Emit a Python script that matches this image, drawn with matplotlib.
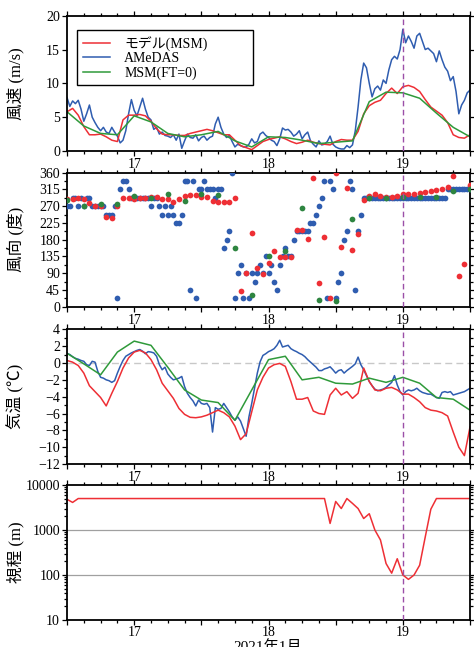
import numpy as np
import pandas as pd
import matplotlib
matplotlib.use('Agg')
import matplotlib.pyplot as plt
import matplotlib.dates as mdates
from matplotlib.ticker import MultipleLocator, FixedLocator, LogLocator, NullFormatter, FuncFormatter
from matplotlib.lines import Line2D

plt.rcParams['font.family'] = ['Liberation Serif', 'Noto Sans CJK JP']
plt.rcParams['axes.unicode_minus'] = True

# time axes: AMeDAS every 30 min, MSM forecast hourly, MSM(FT=0) every 3 h
t_obs = pd.date_range('2021-01-16 12:00', '2021-01-19 12:00', freq='30min')
t_msm = pd.date_range('2021-01-16 12:00', '2021-01-19 12:00', freq='1h')
t_ft0 = pd.date_range('2021-01-16 12:00', '2021-01-19 12:00', freq='3h')
t_mark = pd.Timestamp('2021-01-19 00:00')

# wind speed (m/s)
ws_msm = [5.8, 6.3, 5.3, 3.6, 2.4, 2.4, 2.5, 2.1, 1.6, 1.4, 4.6, 5.3, 5.3, 5.4, 5.2, 4.4,
          3.3, 2.5, 2.4, 2.4, 2.3, 2.3, 2.6, 2.8, 3.0, 3.2, 3.0, 2.7, 2.4, 2.4, 1.6, 0.8,
          0.5, 0.2, 0.8, 1.4, 1.7, 1.9, 2.1, 1.8, 1.4, 1.1, 1.3, 1.6, 1.3, 1.1, 1.0, 0.9,
          1.4, 1.7, 1.6, 1.6, 2.9, 5.5, 6.7, 7.2, 7.5, 8.5, 9.3, 8.5, 9.5, 9.7, 9.4, 8.8,
          7.6, 6.5, 5.9, 5.3, 4.2, 2.4, 2.0, 1.9, 2.4]
ws_obs = [7.9, 6.6, 7.4, 7.0, 7.5, 6.2, 4.4, 5.5, 6.8, 5.0,
          4.2, 3.5, 3.0, 3.5, 2.8, 2.6, 3.5, 2.8, 2.2, 1.2,
          1.6, 3.0, 5.5, 7.6, 6.0, 5.2, 6.5, 7.8, 6.2, 5.0,
          4.6, 3.2, 3.5, 2.5, 2.8, 2.3, 2.2, 2.0, 2.4, 1.6,
          2.5, 0.4, 1.5, 2.5, 2.0, 1.9, 2.4, 1.5, 2.0, 2.2,
          1.6, 2.0, 2.2, 4.0, 5.0, 3.5, 2.5, 2.0, 2.3, 1.4,
          0.6,
          1.0, 0.8, 0.6, 0.6, 1.0, 1.8, 1.2, 1.4, 2.5, 2.8,
          2.3, 2.0, 1.6, 1.4, 0.8, 1.8, 3.4, 3.1, 3.2, 2.8,
          2.2, 2.5, 3.0, 1.8, 2.4, 2.8, 1.5, 1.0, 0.6, 1.5,
          0.9, 1.0, 1.4, 2.2, 1.0, 0.6, 0.4, 0.3, 0.3, 0.8,
          0.5, 0.9, 3.0, 6.5, 10.5, 13.0, 12.3, 10.0, 8.0, 9.2,
          9.6, 9.0, 10.5, 10.0, 12.0, 13.5, 14.0, 13.6, 15.0, 18.0,
          16.0, 17.0, 16.2, 15.2, 17.0, 17.4, 16.2, 15.0, 15.2, 14.8,
          14.4, 13.2, 14.8, 13.5, 12.4, 11.8, 10.4, 11.0, 8.8, 5.5,
          6.8, 7.5, 8.6, 9.0]
ws_ft0 = [5.8, 3.7, 2.6, 2.4, 5.2, 4.3, 2.6, 2.1, 2.4, 2.9, 1.5, 0.6, 2.1,
          2.0, 1.6, 1.1, 1.3, 1.5, 7.3, 8.7, 8.6, 7.8, 5.6, 3.5, 2.1]

# wind direction (deg)
wd_msm = [288, 288, 291, 288, 279, 270, 270, 242, 237, 271, 291, 291, 289, 291, 293, 295,
          295, 288, 288, 282, 288, 297, 300, 300, 294, 294, 285, 282, 282, 282, 291, 42,
          90, 199, 103, 87, 118, 150, 134, 134, 134, 206, 206, 183, 345, 64, 188, 22,
          358, 159, 318, 152, 195, 287, 297, 302, 297, 294, 296, 297, 302, 302, 303, 305,
          308, 310, 313, 317, 322, 351, 82, 115, 327]
wd_obs = [270, 270, 292.5, 292.5, 270, 292.5, 270, 292.5, 292.5, 270,
          270, 270, 270, 270, 247.5, 247.5, 247.5, 270, 22.5, 315,
          337.5, 337.5, 315, 292.5, 292.5, 292.5, 292.5, 292.5, 292.5, 292.5,
          270, 292.5, 292.5, 270, 247.5, 270, 247.5, 270, 247.5, 225,
          225, 247.5, 337.5, 337.5, 45, 337.5, 22.5, 315, 315, 337.5,
          315, 315, 315, 292.5, 315, 315, 157.5, 180, 202.5, 360,
          22.5, 90, 112.5, 22.5, 90, 22.5, 90, 67.5, 90, 112.5,
          90, 135, 90, 112.5, 67.5, 45, 112.5, 135, 157.5, 135,
          135, 180, 202.5, 202.5, 202.5, 202.5, 202.5, 225, 225, 247.5,
          270, 292.5, 337.5, 22.5, 337.5, 315, 22.5, 67.5, 90, 180,
          202.5, 337.5, 315, 45, 202.5, 247.5, 292.5, 292.5, 292.5, 292.5,
          292.5, 292.5, 292.5, 292.5, 292.5, 292.5, 292.5, 292.5, 292.5, 292.5,
          292.5, 292.5, 292.5, 292.5, 292.5, 292.5, 292.5, 292.5, 292.5, 292.5,
          292.5, 292.5, 292.5, 292.5, 292.5, 292.5, 315, 315, 315, 315,
          315, 315, 315, 315, 315]
wd_ft0 = [287, 270, 277, 277, 297, 291, 302, 285, 302, 300, 157, 32, 135,
          150, 266, 18, 16, 235, 291, 293, 294, 294, 294, 311, 315]

# air temperature (deg C)
ta_msm = [0.3, 0.1, -0.3, -1.2, -2.7, -3.4, -4.1, -5.1, -3.6, -2.2, -0.6, 0.6, 1.3, 1.5,
          1.2, 0.4, -0.8, -2.4, -3.3, -4.2, -5.4, -6.1, -6.45, -6.5, -6.4, -6.2, -5.9,
          -5.6, -5.9, -6.4, -7.5, -9.1, -8.4, -5.8, -3.2, -1.7, -0.6, -0.2, -0.05, -0.4,
          -2.2, -4.3, -4.3, -4.1, -5.7, -6.0, -6.1, -3.8, -3.0, -3.8, -3.4, -4.2, -3.6,
          -0.6, -2.2, -3.2, -3.3, -3.0, -2.9, -3.2, -3.7, -3.7, -4.1, -4.6, -5.3, -5.6,
          -5.7, -5.9, -6.3, -8.2, -10.0, -11.0, -7.6]
ta_obs = [1.15, 1.0, 0.75, 0.55, 0.45, 0.3, 0.2, -0.2, -0.3, 0.2, 0.1, -1.0, -1.7, -1.8,
          -2.0, -2.1, -2.3, -2.1, -1.2, -0.4, 0.3,
          0.8, 1.0, 1.2, 1.35, 1.5, 1.6, 1.4, 1.1, 1.35, 1.3,
          1.2, 0.8, -0.2, -0.8, -0.5, -1.3, -1.7, -2.0, -1.9, -1.8,
          -1.6, -2.8, -3.6, -4.1, -4.5, -5.1, -4.4, -4.8, -4.9, -4.8,
          -5.3, -8.2, -5.3, -5.5, -5.4, -4.8, -5.3, -5.8, -6.4, -6.8,
          -6.4, -6.9, -7.8, -8.7, -6.4, -4.8, -3.0, -1.2, 0.15, 0.9,
          1.1, 1.35, 1.5, 1.7, 2.1, 2.7, 1.9, 2.0, 2.1, 1.7,
          1.5, 1.35, 1.15, 1.0, 0.75, 0.4, 0.1, -0.2, -0.5, -0.9,
          -0.9, -0.7, -0.6, -0.45, -0.8, -1.2, -0.9, -0.8, -1.2, -0.9,
          -0.65, -0.4, -0.1, 0.7, -0.2, -0.8, -1.5, -2.2, -2.7, -3.1,
          -3.3, -3.2, -3.1, -2.9, -2.6, -2.3, -1.5, -2.6, -3.4, -3.8,
          -3.4, -3.2, -3.3, -3.2, -3.0, -3.3, -3.5, -3.6, -3.7, -3.7,
          -3.9, -4.1, -4.2, -3.5, -3.4, -3.5, -3.4, -3.8, -3.7, -3.6,
          -3.5, -3.4, -3.2, -3.0]
ta_ft0 = [1.15, -0.1, -1.4, 1.3, 2.6, 2.1, -0.5, -3.2, -4.4, -4.7, -6.8, -3.2, 0.4,
          0.8, -2.0, -1.7, -2.4, -2.5, -1.8, -2.3, -1.7, -2.4, -4.1, -4.3, -5.6]

# visibility (m), MSM
vis_msm = [4800, 4100, 5000, 5000, 5000, 5000, 5000, 5000, 5000, 5000, 5000, 5000,
           5000, 5000, 5000, 5000, 5000, 5000, 5000, 5000, 5000, 5000, 5000, 5000,
           5000, 5000, 5000, 5000, 5000, 5000, 5000, 5000, 5000, 5000, 5000, 5000,
           5000, 5000, 5000, 5000, 5000, 5000, 5000, 5000, 5000, 5000, 5000, 1400,
           4300, 3000, 5000, 3900, 3000, 1800, 2300, 1000, 600, 180, 110, 230,
           100, 80, 100, 165, 700, 2900, 5000, 5000, 5000, 5000, 5000, 5000, 5000]

RED = '#ee2f35'
BLUE = '#2f5db0'
GREEN = '#2f9a3a'
DOT_GREEN = '#2e8540'
PURPLE = '#9b4fa8'

fig = plt.figure(figsize=(4.74, 6.47), dpi=100)
left, width = 0.1414, 0.8502
ax1 = fig.add_axes([left, 0.7666, width, 0.2091])
ax2 = fig.add_axes([left, 0.5260, width, 0.2071])
ax3 = fig.add_axes([left, 0.2828, width, 0.2082])
ax4 = fig.add_axes([left, 0.0417, width, 0.2087])
axes = [ax1, ax2, ax3, ax4]


def day_label(x, pos):
    d = mdates.num2date(x)
    return str(d.day) if d.hour == 0 else ''


for ax in axes:
    ax.set_xlim(pd.Timestamp('2021-01-16 12:00'), pd.Timestamp('2021-01-19 12:00'))
    ax.xaxis.set_major_locator(mdates.HourLocator(byhour=[0, 12]))
    ax.xaxis.set_minor_locator(mdates.HourLocator(byhour=range(0, 24, 3)))
    ax.xaxis.set_major_formatter(FuncFormatter(day_label))
    ax.tick_params(which='both', direction='out', top=True, right=True,
                   labelsize=10, width=0.9, pad=1.5)
    ax.tick_params(which='major', length=3.5)
    ax.tick_params(which='minor', length=2)
    for s in ax.spines.values():
        s.set_linewidth(1.3)
    ax.axvline(t_mark, color=PURPLE, lw=1.0, ls=(0, (4, 2.5)), zorder=5)

# wind speed
ax1.plot(t_obs, ws_obs, color=BLUE, lw=1.1)
ax1.plot(t_msm, ws_msm, color=RED, lw=1.1)
ax1.plot(t_ft0, ws_ft0, color=GREEN, lw=1.1)
ax1.set_ylim(0, 20)
ax1.yaxis.set_major_locator(MultipleLocator(5))
ax1.set_ylabel('風速 (m/s)', fontsize=12, labelpad=6)
handles = [Line2D([], [], color=RED, lw=1.1), Line2D([], [], color=BLUE, lw=1.1),
           Line2D([], [], color=GREEN, lw=1.1)]
leg = ax1.legend(handles, ['モデル(MSM)', 'AMeDAS', 'MSM(FT=0)'],
                 loc='upper left', bbox_to_anchor=(0.025, 0.894, 0.436, 0.0),
                 mode='expand', borderaxespad=0, fontsize=10, fancybox=False,
                 edgecolor='black', framealpha=1, handlelength=2.0,
                 handletextpad=1.0, labelspacing=0.1, borderpad=0.4)
leg.get_frame().set_linewidth(1.0)

# wind direction
ax2.scatter(t_obs, wd_obs, s=17, color=BLUE, linewidths=0, zorder=3)
ax2.scatter(t_msm, wd_msm, s=17, color=RED, linewidths=0, zorder=3)
ax2.scatter(t_ft0, wd_ft0, s=17, color=DOT_GREEN, linewidths=0, zorder=3)
ax2.set_ylim(0, 360)
ax2.yaxis.set_major_locator(MultipleLocator(45))
ax2.yaxis.set_minor_locator(MultipleLocator(22.5))
ax2.set_ylabel('風向 (度)', fontsize=12, labelpad=3)

# temperature
ax3.axhline(0, color='#c8c8c8', lw=1.0, ls=(0, (5, 3)), zorder=1)
ax3.plot(t_obs, ta_obs, color=BLUE, lw=1.1)
ax3.plot(t_msm, ta_msm, color=RED, lw=1.1)
ax3.plot(t_ft0, ta_ft0, color=GREEN, lw=1.1)
ax3.set_ylim(-12, 4)
ax3.yaxis.set_major_locator(MultipleLocator(2))
ax3.yaxis.set_minor_locator(MultipleLocator(1))
ax3.yaxis.set_major_formatter(FuncFormatter(lambda v, p: '%d' % v if v >= 0 else '\u2212%d' % -v))
ax3.set_ylabel('気温 (℃)', fontsize=12, labelpad=4)

# visibility
ax4.set_yscale('log')
ax4.set_ylim(10, 10000)
for v in (100, 1000):
    ax4.axhline(v, color='#a0a0a0', lw=0.9, zorder=1)
ax4.plot(t_msm, vis_msm, color=RED, lw=1.1)
ax4.yaxis.set_major_locator(FixedLocator([10, 100, 1000, 10000]))
ax4.yaxis.set_major_formatter(FuncFormatter(lambda v, p: '%d' % v))
ax4.yaxis.set_minor_locator(LogLocator(base=10, subs=np.arange(2, 10)))
ax4.yaxis.set_minor_formatter(NullFormatter())
ax4.set_ylabel('視程 (m)', fontsize=12, labelpad=2)
ax4.tick_params(axis='x', pad=0.5)

for ax in axes:
    ax.yaxis.set_label_coords(-0.105, 0.5)

# date caption below the last panel, partly running off the bottom edge
fig.text(268 / 474, 1 - 639.5 / 647, '2021年1月', ha='center', va='top', fontsize=11)

fig.savefig('out.png', dpi=100)
